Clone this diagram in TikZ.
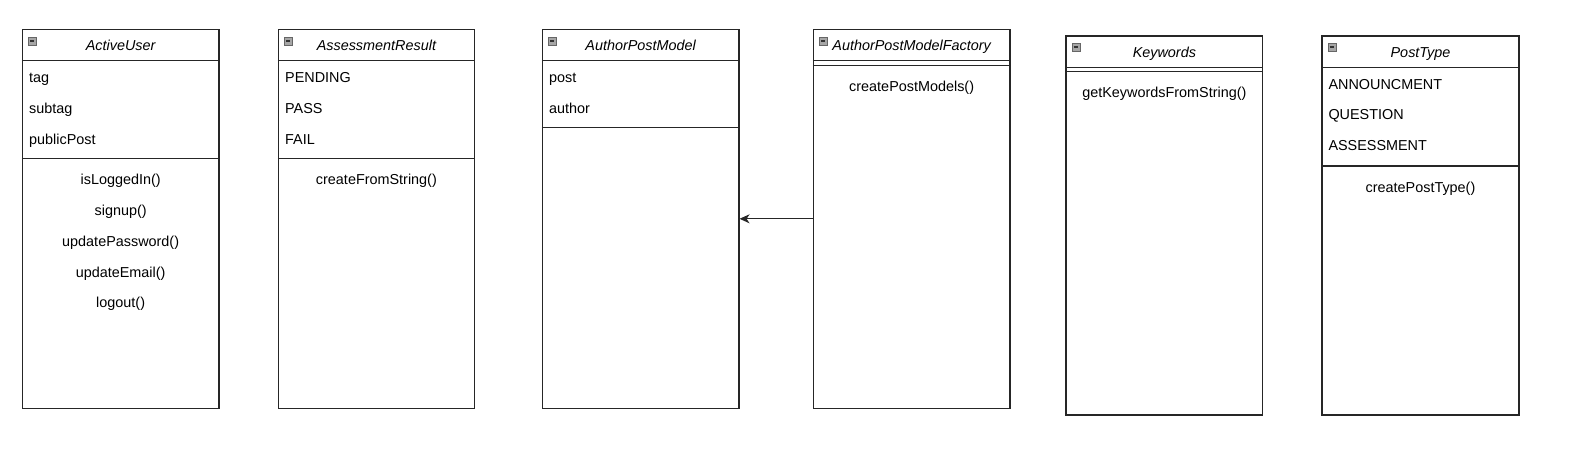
\documentclass[tikz,border=0pt]{standalone}
\usepackage{fontspec}
\setmainfont{Liberation Sans}
\usetikzlibrary{arrows.meta,calc}
\tikzset{
  classbox/.style={draw=black!85, line width=1.1pt, fill=white, inner sep=0pt, minimum height=379pt},
  sepline/.style={draw=black!85, line width=1.1pt},
  ttl/.style={font=\fontsize{14.4}{17}\selectfont\itshape, text height=10.3pt, text depth=0pt, inner sep=0pt, anchor=center},
  attr/.style={font=\fontsize{14.4}{17}\selectfont, text height=10.3pt, text depth=0pt, inner sep=0pt, anchor=west},
  meth/.style={font=\fontsize{14.4}{17}\selectfont, text height=10.3pt, text depth=0pt, inner sep=0pt, anchor=center},
  icon/.style={draw=black!60, fill=black!35, line width=0.6pt, minimum size=8pt, inner sep=0pt, anchor=north west,
    path picture={\draw[black!80, line width=1.3pt] ([xshift=1.8pt]path picture bounding box.west) -- ([xshift=-1.8pt]path picture bounding box.east);}},
  assoc/.style={draw=black!85, line width=1.1pt, -{Stealth[length=10pt,width=9pt,inset=3pt]}}
}
\begin{document}
\begin{tikzpicture}[x=1pt,y=-1pt]
\useasboundingbox[fill=white] (0,0) rectangle (1595,469);

% ---------------- ActiveUser
\node[classbox, minimum width=196.7pt] (au) at (120.65,218.8) {};
\node[icon] (au-ic) at (27.7,36.7) {};
\node[ttl] (au-t) at (120.65,45) {ActiveUser};
\draw[sepline] (au.west |- 0,60.7) -- (au.east |- 0,60.7);
\node[attr] (au-a1) at (29,77.5) {tag};
\node[attr] (au-a2) at (29,108.3) {subtag};
\node[attr] (au-a3) at (29,139.1) {publicPost};
\draw[sepline] (au.west |- 0,158.3) -- (au.east |- 0,158.3);
\node[meth] (au-m1) at (120.65,179.6) {isLoggedIn()};
\node[meth] (au-m2) at (120.65,210.4) {signup()};
\node[meth] (au-m3) at (120.65,241.2) {updatePassword()};
\node[meth] (au-m4) at (120.65,272.0) {updateEmail()};
\node[meth] (au-m5) at (120.65,302.8) {logout()};

% ---------------- AssessmentResult
\node[classbox, minimum width=196.2pt] (ar) at (376.4,218.8) {};
\node[icon] (ar-ic) at (283.7,36.7) {};
\node[ttl] (ar-t) at (376.4,45) {AssessmentResult};
\draw[sepline] (ar.west |- 0,60.7) -- (ar.east |- 0,60.7);
\node[attr] (ar-a1) at (285,77.5) {PENDING};
\node[attr] (ar-a2) at (285,108.3) {PASS};
\node[attr] (ar-a3) at (285,139.1) {FAIL};
\draw[sepline] (ar.west |- 0,158.3) -- (ar.east |- 0,158.3);
\node[meth] (ar-m1) at (376.4,179.6) {createFromString()};

% ---------------- AuthorPostModel
\node[classbox, minimum width=196.7pt] (apm) at (640.65,218.8) {};
\node[icon] (apm-ic) at (547.7,36.7) {};
\node[ttl] (apm-t) at (640.65,45) {AuthorPostModel};
\draw[sepline] (apm.west |- 0,60.7) -- (apm.east |- 0,60.7);
\node[attr] (apm-a1) at (549,77.5) {post};
\node[attr] (apm-a2) at (549,108.3) {author};
\draw[sepline] (apm.west |- 0,127.4) -- (apm.east |- 0,127.4);

% ---------------- AuthorPostModelFactory
\node[classbox, minimum width=196.7pt] (apmf) at (911.65,218.8) {};
\node[icon] (apmf-ic) at (818.7,36.7) {};
\node[ttl] (apmf-t) at (911.65,45) {AuthorPostModelFactory};
\draw[sepline] (apmf.west |- 0,60.7) -- (apmf.east |- 0,60.7);
\draw[sepline] (apmf.west |- 0,65.2) -- (apmf.east |- 0,65.2);
\node[meth] (apmf-m1) at (911.65,86) {createPostModels()};

% ---------------- Keywords
\node[classbox, minimum width=196.7pt] (kw) at (1164.35,225.5) {};
\node[icon] (kw-ic) at (1071.5,42.7) {};
\node[ttl] (kw-t) at (1164.35,52.8) {Keywords};
\draw[sepline] (kw.west |- 0,67.3) -- (kw.east |- 0,67.3);
\draw[sepline] (kw.west |- 0,71.7) -- (kw.east |- 0,71.7);
\node[meth] (kw-m1) at (1164.35,92.5) {getKeywordsFromString()};

% ---------------- PostType
\node[classbox, minimum width=197pt] (pt) at (1420.5,225.5) {};
\node[icon] (pt-ic) at (1327.5,42.7) {};
\node[ttl] (pt-t) at (1420.5,52.8) {PostType};
\draw[sepline] (pt.west |- 0,67.3) -- (pt.east |- 0,67.3);
\node[attr] (pt-a1) at (1328.3,83.9) {ANNOUNCMENT};
\node[attr] (pt-a2) at (1328.3,114.8) {QUESTION};
\node[attr] (pt-a3) at (1328.3,145.8) {ASSESSMENT};
\draw[sepline] (pt.west |- 0,166) -- (pt.east |- 0,166);
\node[meth] (pt-m1) at (1420.5,187.3) {createPostType()};

% ---------------- connector
\draw[assoc] (apmf.west) -- (apm.east);
\end{tikzpicture}
\end{document}
